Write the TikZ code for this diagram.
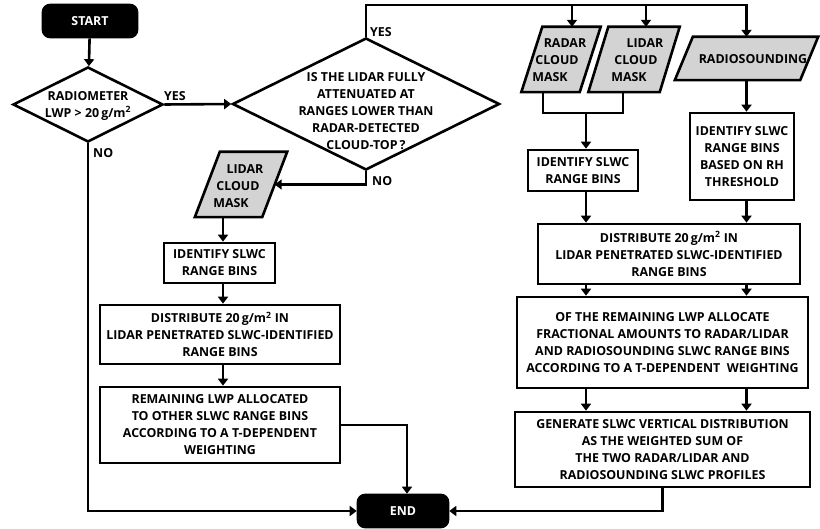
\documentclass[tikz,border=0pt]{standalone}
\usepackage{fontspec}
\setmainfont{Open Sans}
\usetikzlibrary{arrows.meta,calc,shapes.geometric}
\definecolor{pgray}{RGB}{211,211,211}
\newcommand{\drawpara}[2]{%
  \draw[lw, fill=pgray] ([xshift=#2]#1.north west) -- ([xshift=#2]#1.north east)
    -- ([xshift=-#2]#1.south east) -- ([xshift=-#2]#1.south west) -- cycle;}
\begin{document}
\begin{tikzpicture}[x=1pt,y=-1pt,
  every node/.style={font=\fontsize{12.4}{17}\selectfont\bfseries, inner sep=0pt, align=center},
  lw/.style={line width=2.6pt},
  arr/.style={lw, -{Triangle[width=10pt,length=7pt]}},
  box/.style={draw, lw, rectangle, fill=white},
  term/.style={draw, fill=black, rounded corners=7pt, text=white, lw},
  dia/.style={draw, lw, diamond, fill=white},
  pbase/.style={rectangle, draw=none}
]
\useasboundingbox (0,0) rectangle (820,529);

% terminals
\node[term, minimum width=94pt, minimum height=32pt] (start) at (90,21) {START};
\node[term, minimum width=90pt, minimum height=32pt] (endn) at (403,511) {END};

% decisions
\node[dia, minimum width=150pt, minimum height=75pt] (d1) at (88,104.5) {};
\node (d1t) at (88,105.5) {RADIOMETER\\LWP > 20\,g/m\textsuperscript{2}};
\node[dia, minimum width=267pt, minimum height=132pt] (d2) at (366,104) {};
\node (d2t) at (366,111) {IS THE LIDAR FULLY\\ATTENUATED AT\\RANGES LOWER THAN\\RADAR-DETECTED\\CLOUD-TOP\,?};

% labels
\node[anchor=west] (yes1) at (164,96) {YES};
\node[anchor=west] (no1) at (93,153) {NO};
\node[anchor=west] (yes2) at (370,32) {YES};
\node[anchor=west] (no2) at (372,181) {NO};

% data parallelograms (body rectangles, slanted outline drawn around them)
\node[pbase, minimum width=58pt, minimum height=65pt] (radar) at (561,59.5) {};
\drawpara{radar}{10.5pt}
\node (radart) at (557,60) {\hspace*{16pt}RADAR\\CLOUD\\MASK\hspace*{14pt}};
\node[pbase, minimum width=71pt, minimum height=65pt] (lidarR) at (634,59.5) {};
\drawpara{lidarR}{10pt}
\node (lidarRt) at (636,60) {\hspace*{18pt}LIDAR\\CLOUD\\MASK\hspace*{14pt}};
\node[pbase, minimum width=125pt, minimum height=43pt] (rs) at (746.5,58.5) {};
\drawpara{rs}{9pt}
\node (rst) at (753,59) {RADIOSOUNDING};
\node[pbase, minimum width=67pt, minimum height=65pt] (lidarL) at (241,184.5) {};
\drawpara{lidarL}{12.5pt}
\node (lidarLt) at (238,186.5) {\hspace*{14pt}LIDAR\\CLOUD\\MASK\hspace*{14pt}};

% right column boxes
\node[box, minimum width=110pt, minimum height=41pt] (idR) at (583,170.5) {IDENTIFY SLWC\\RANGE BINS};
\node[box, minimum width=104pt, minimum height=87pt] (idRH) at (742,156.5) {IDENTIFY SLWC\\RANGE BINS\\BASED ON RH\\THRESHOLD};
\node[box, minimum width=262pt, minimum height=60pt] (distR) at (669,254) {DISTRIBUTE 20\,g/m\textsuperscript{2} IN\\LIDAR PENETRATED SLWC-IDENTIFIED\\RANGE BINS};
\node[box, minimum width=291pt, minimum height=91pt] (remR) at (662.5,342.5) {OF THE REMAINING LWP ALLOCATE\\FRACTIONAL AMOUNTS TO RADAR/LIDAR\\AND RADIOSOUNDING SLWC RANGE BINS\\ACCORDING TO A T-DEPENDENT\ \ WEIGHTING};
\node[box, minimum width=295pt, minimum height=75pt] (gen) at (662.5,449.5) {GENERATE SLWC VERTICAL\ DISTRIBUTION\\AS THE\ WEIGHTED SUM OF\\THE TWO RADAR/LIDAR AND\\RADIOSOUNDING SLWC PROFILES};

% left column boxes
\node[box, minimum width=111pt, minimum height=40pt] (idL) at (219.5,263) {IDENTIFY SLWC\\RANGE BINS};
\node[box, minimum width=240pt, minimum height=59pt] (distL) at (220,334.5) {DISTRIBUTE 20\,g/m\textsuperscript{2} IN\\LIDAR PENETRATED SLWC-IDENTIFIED\\RANGE BINS};
\node[box, minimum width=240pt, minimum height=76pt] (remL) at (220,425) {REMAINING LWP ALLOCATED\\TO OTHER SLWC RANGE BINS\\ACCORDING TO A T-DEPENDENT\\WEIGHTING};

% helper coordinates
\coordinate (ty) at (0,5);
\coordinate (xa) at (586,113);
\coordinate (xl) at (223,0);

% connectors
\draw[arr] (start) -- (d1);
\draw[arr] (d1.east) -- (d2.west);
\draw[arr] (d1.south) |- (endn.west);
\draw[arr] (d2.north) |- (rs.north |- ty) -- (rs.north);
\draw[arr] ([xshift=11pt]radar.north |- ty) -- ([xshift=11pt]radar.north);
\draw[arr] ([xshift=12pt]lidarR.north |- ty) -- ([xshift=12pt]lidarR.north);
\draw[lw] ([xshift=-18pt]radar.south) |- (xa) -| ([xshift=-11pt]lidarR.south);
\draw[arr] (xa) -- (xa |- idR.north);
\draw[arr] (rs.south) -- (rs.south |- idRH.north);
\draw[arr] (xa |- idR.south) -- (xa |- distR.north);
\draw[arr] (rs.south |- idRH.south) -- (rs.south |- distR.north);
\draw[arr] (xa |- distR.south) -- (xa |- remR.north);
\draw[arr] (rs.south |- distR.south) -- (rs.south |- remR.north);
\draw[arr] (xa |- remR.south) -- (xa |- gen.north);
\draw[arr] (rs.south |- remR.south) -- (rs.south |- gen.north);
\draw[arr] (gen.south) |- (endn.east);

\draw[arr] (d2.south) |- (lidarL.east);
\draw[arr] (xl |- lidarL.south) -- (xl |- idL.north);
\draw[arr] (xl |- idL.south) -- (xl |- distL.north);
\draw[arr] (xl |- distL.south) -- (xl |- remL.north);
\draw[arr] (remL.east) -| ([xshift=4pt]endn.north);
\end{tikzpicture}
\end{document}
